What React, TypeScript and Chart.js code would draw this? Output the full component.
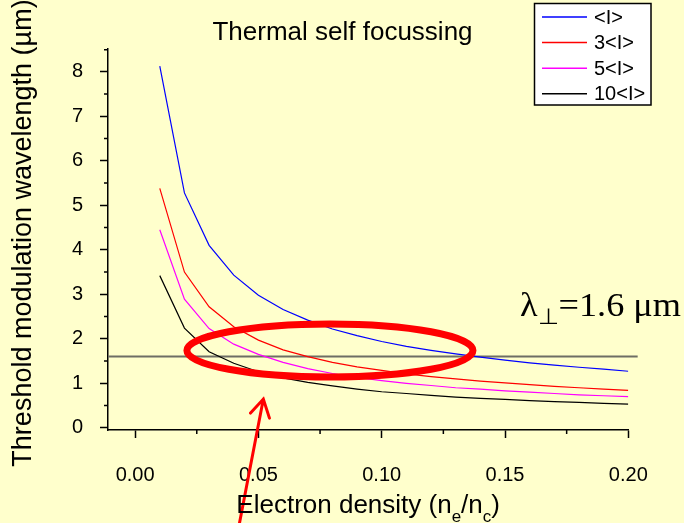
import React, { useEffect, useRef } from 'react';
import { Chart, registerables } from 'chart.js';

Chart.register(...registerables);

// Electron density n_e/n_c sampled every 0.01
const densities = [
  0.01, 0.02, 0.03, 0.04, 0.05, 0.06, 0.07, 0.08, 0.09, 0.1,
  0.11, 0.12, 0.13, 0.14, 0.15, 0.16, 0.17, 0.18, 0.19, 0.2,
];

// Threshold modulation wavelength (µm) for each intensity level
const wavelengthI = [
  8.13, 5.28, 4.1, 3.43, 2.98, 2.66, 2.42, 2.22, 2.07, 1.94,
  1.83, 1.74, 1.66, 1.59, 1.52, 1.46, 1.41, 1.36, 1.32, 1.27,
];
const wavelength3I = [
  5.38, 3.5, 2.72, 2.27, 1.97, 1.75, 1.6, 1.47, 1.37, 1.29,
  1.21, 1.15, 1.1, 1.05, 1.01, 0.97, 0.93, 0.9, 0.87, 0.84,
];
const wavelength5I = [
  4.45, 2.89, 2.23, 1.88, 1.65, 1.47, 1.33, 1.22, 1.13, 1.06,
  1.0, 0.95, 0.9, 0.87, 0.83, 0.8, 0.77, 0.74, 0.72, 0.7,
];
const wavelength10I = [
  3.42, 2.24, 1.71, 1.45, 1.26, 1.12, 1.02, 0.94, 0.87, 0.81,
  0.77, 0.73, 0.69, 0.66, 0.64, 0.61, 0.59, 0.57, 0.55, 0.53,
];

const seriesLabels = ['<I>', '3<I>', '5<I>', '10<I>'];
const seriesColors = ['#0000FF', '#FF0000', '#FF00FF', '#000000'];

const xTickValues = [0, 0.05, 0.1, 0.15, 0.2];
const xTickLabels = ['0.00', '0.05', '0.10', '0.15', '0.20'];
const xMinorTicks = [0.025, 0.075, 0.125, 0.175];
const yTickValues = [0, 1, 2, 3, 4, 5, 6, 7, 8];
const yTickLabels = ['0', '1', '2', '3', '4', '5', '6', '7', '8'];
const yMinorTicks = [0.5, 1.5, 2.5, 3.5, 4.5, 5.5, 6.5, 7.5, 8.5];

// Reference wavelength λ⊥ = 1.6 µm
const referenceWavelength = 1.6;

const chartTitle = 'Thermal self focussing';
const yAxisTitle = 'Threshold modulation wavelength (µm)';

const SANS = '"Liberation Sans", Arial, Helvetica, sans-serif';
const SERIF = '"Liberation Serif", "Times New Roman", Times, serif';

// Horizontal reference line, drawn under the curves
const referenceLinePlugin = {
  id: 'referenceLine',
  beforeDatasetsDraw(chart: any) {
    const { ctx, scales } = chart;
    const y = scales.y.getPixelForValue(referenceWavelength);
    const x0 = chart.chartArea.left;
    const x1 = scales.x.getPixelForValue(0.2038);
    ctx.save();
    ctx.strokeStyle = '#6e6e64';
    ctx.lineWidth = 2;
    ctx.beginPath();
    ctx.moveTo(x0, y);
    ctx.lineTo(x1, y);
    ctx.stroke();
    ctx.restore();
  },
};

// Short minor tick marks between the labelled ticks
const minorTicksPlugin = {
  id: 'minorTicks',
  afterDraw(chart: any) {
    const { ctx, scales, chartArea } = chart;
    ctx.save();
    ctx.strokeStyle = '#000';
    ctx.lineWidth = 1.5;
    ctx.beginPath();
    xMinorTicks.forEach((v) => {
      const x = scales.x.getPixelForValue(v);
      ctx.moveTo(x, chartArea.bottom);
      ctx.lineTo(x, chartArea.bottom + 4);
    });
    yMinorTicks.forEach((v) => {
      const y = scales.y.getPixelForValue(v);
      ctx.moveTo(chartArea.left, y);
      ctx.lineTo(chartArea.left - 4, y);
    });
    ctx.stroke();
    ctx.restore();
  },
};

// Chart title and rotated y-axis title
const titlesPlugin = {
  id: 'titles',
  afterDraw(chart: any) {
    const { ctx } = chart;
    ctx.save();
    ctx.fillStyle = '#000';
    ctx.textAlign = 'center';
    ctx.textBaseline = 'middle';
    ctx.font = `26px ${SANS}`;
    ctx.fillText(chartTitle, 342.5, 32.5);

    ctx.translate(24, 233);
    ctx.rotate(-Math.PI / 2);
    ctx.font = `27px ${SANS}`;
    ctx.fillText(yAxisTitle, 0, 0);
    ctx.restore();
  },
};

// Boxed legend in the top-right corner
const boxLegendPlugin = {
  id: 'boxLegend',
  afterDraw(chart: any) {
    const { ctx } = chart;
    const left = 534.5;
    const top = 3.5;
    const width = 116.5;
    const height = 101.5;
    ctx.save();
    ctx.fillStyle = '#FFFFFF';
    ctx.fillRect(left, top, width, height);
    ctx.strokeStyle = '#000';
    ctx.lineWidth = 1.5;
    ctx.strokeRect(left, top, width, height);
    ctx.font = `20px ${SANS}`;
    ctx.textBaseline = 'middle';
    ctx.textAlign = 'left';
    chart.data.datasets.forEach((ds: any, i: number) => {
      const y = 17 + i * 25.6;
      ctx.strokeStyle = ds.borderColor;
      ctx.lineWidth = 1.5;
      ctx.beginPath();
      ctx.moveTo(left + 7.5, y);
      ctx.lineTo(left + 52.5, y);
      ctx.stroke();
      ctx.fillStyle = '#000';
      ctx.fillText(ds.label, left + 59.5, y + 1);
    });
    ctx.restore();
  },
};

// Annotations: ellipse around the crossing region, arrow, λ⊥ label, x-axis title
const annotationsPlugin = {
  id: 'annotations',
  afterDraw(chart: any) {
    const { ctx, scales, chartArea } = chart;
    ctx.save();

    // red ellipse
    const cx = scales.x.getPixelForValue(0.079);
    const cy = scales.y.getPixelForValue(1.736);
    const rx = scales.x.getPixelForValue(0.079 + 0.058) - cx;
    const ry = cy - scales.y.getPixelForValue(1.736 + 0.596);
    ctx.strokeStyle = '#FF0000';
    ctx.lineWidth = 7;
    ctx.beginPath();
    ctx.ellipse(cx, cy, rx, ry, 0, 0, Math.PI * 2);
    ctx.stroke();

    // red arrow pointing up into the ellipse
    const tipX = scales.x.getPixelForValue(0.052);
    const tipY = scales.y.getPixelForValue(0.645);
    const tailX = scales.x.getPixelForValue(0.0416);
    const tailY = scales.y.getPixelForValue(-2.35);
    const ang = Math.atan2(tailY - tipY, tailX - tipX);
    ctx.lineWidth = 3;
    ctx.lineCap = 'round';
    ctx.beginPath();
    ctx.moveTo(tailX, tailY);
    ctx.lineTo(tipX, tipY);
    ctx.moveTo(tipX + 19 * Math.cos(ang + 0.55), tipY + 19 * Math.sin(ang + 0.55));
    ctx.lineTo(tipX, tipY);
    ctx.lineTo(tipX + 20 * Math.cos(ang - 0.5), tipY + 20 * Math.sin(ang - 0.5));
    ctx.stroke();

    // λ⊥ = 1.6 µm label, set in a wide serif face
    ctx.fillStyle = '#000';
    ctx.textBaseline = 'alphabetic';
    ctx.textAlign = 'left';
    const bigSerif = `33px ${SERIF}`;
    const subSerif = `22px ${SERIF}`;
    const labelParts: [string, boolean][] = [
      ['λ', false],
      ['⊥', true],
      ['=1.6 μm', false],
    ];
    let natural = 0;
    labelParts.forEach(([t, sub]) => {
      ctx.font = sub ? subSerif : bigSerif;
      natural += ctx.measureText(t).width;
    });
    const stretch = 161 / natural;
    ctx.save();
    ctx.translate(520, 316);
    ctx.scale(stretch, 1);
    let lx = 0;
    labelParts.forEach(([t, sub]) => {
      ctx.font = sub ? subSerif : bigSerif;
      ctx.fillText(t, lx, sub ? 8 : 0);
      lx += ctx.measureText(t).width;
    });
    ctx.restore();

    // x-axis title with subscripts
    const parts: [string, boolean][] = [
      ['Electron density (n', false],
      ['e', true],
      ['/n', false],
      ['c', true],
      [')', false],
    ];
    const bigFont = `26px ${SANS}`;
    const smallFont = `17px ${SANS}`;
    let total = 0;
    parts.forEach(([t, sub]) => {
      ctx.font = sub ? smallFont : bigFont;
      total += ctx.measureText(t).width;
    });
    let tx = (chartArea.left + chartArea.right) / 2 - total / 2;
    const tb = 513;
    parts.forEach(([t, sub]) => {
      ctx.font = sub ? smallFont : bigFont;
      ctx.fillText(t, tx, sub ? tb + 9 : tb);
      tx += ctx.measureText(t).width;
    });

    ctx.restore();
  },
};

const seriesValues = [wavelengthI, wavelength3I, wavelength5I, wavelength10I];

export default function App() {
  const canvasRef = useRef<HTMLCanvasElement | null>(null);

  useEffect(() => {
    const canvas = canvasRef.current;
    if (!canvas) return;

    const chart = new Chart(canvas, {
      type: 'line',
      data: {
        datasets: seriesValues.map((vals, i) => ({
          label: seriesLabels[i],
          data: densities.map((x, j) => ({ x, y: vals[j] })),
          borderColor: seriesColors[i],
          backgroundColor: seriesColors[i],
          borderWidth: 1.2,
          pointRadius: 0,
          tension: 0,
          fill: false,
        })),
      },
      options: {
        responsive: false,
        animation: false,
        devicePixelRatio: 1,
        layout: { padding: { left: 0, right: 55.7, top: 48.3, bottom: 0 } },
        plugins: {
          legend: { display: false },
          tooltip: { enabled: false },
          title: { display: false },
        },
        scales: {
          x: {
            type: 'linear',
            min: -0.011,
            max: 0.2,
            afterBuildTicks: (scale: any) => {
              scale.ticks = xTickValues.map((value) => ({ value }));
            },
            afterFit: (scale: any) => {
              scale.height = 93;
            },
            ticks: {
              autoSkip: false,
              maxRotation: 0,
              padding: 25,
              color: '#000',
              font: { family: SANS, size: 20 },
              callback: (v: any) => xTickLabels[xTickValues.indexOf(Number(v))] ?? '',
            },
            grid: {
              drawOnChartArea: false,
              drawTicks: true,
              tickLength: 8,
              tickColor: '#000',
              tickWidth: 1.5,
            },
            border: { display: true, color: '#000', width: 1.5 },
          },
          y: {
            type: 'linear',
            min: -0.05,
            max: 8.53,
            afterBuildTicks: (scale: any) => {
              scale.ticks = yTickValues.map((value) => ({ value }));
            },
            afterFit: (scale: any) => {
              scale.width = 108;
            },
            ticks: {
              autoSkip: false,
              padding: 17,
              color: '#000',
              font: { family: SANS, size: 20 },
              callback: (v: any) => yTickLabels[yTickValues.indexOf(Number(v))] ?? '',
            },
            grid: {
              drawOnChartArea: false,
              drawTicks: true,
              tickLength: 8,
              tickColor: '#000',
              tickWidth: 1.5,
            },
            border: { display: true, color: '#000', width: 1.5 },
          },
        },
      },
      plugins: [referenceLinePlugin, minorTicksPlugin, titlesPlugin, boxLegendPlugin, annotationsPlugin],
    } as any);

    return () => chart.destroy();
  }, []);

  return (
    <div
      style={{
        position: 'fixed',
        left: 0,
        top: 0,
        width: '100%',
        height: '100%',
        background: '#FFFFCC',
      }}
    >
      <canvas ref={canvasRef} width={684} height={523} style={{ display: 'block' }} />
    </div>
  );
}
